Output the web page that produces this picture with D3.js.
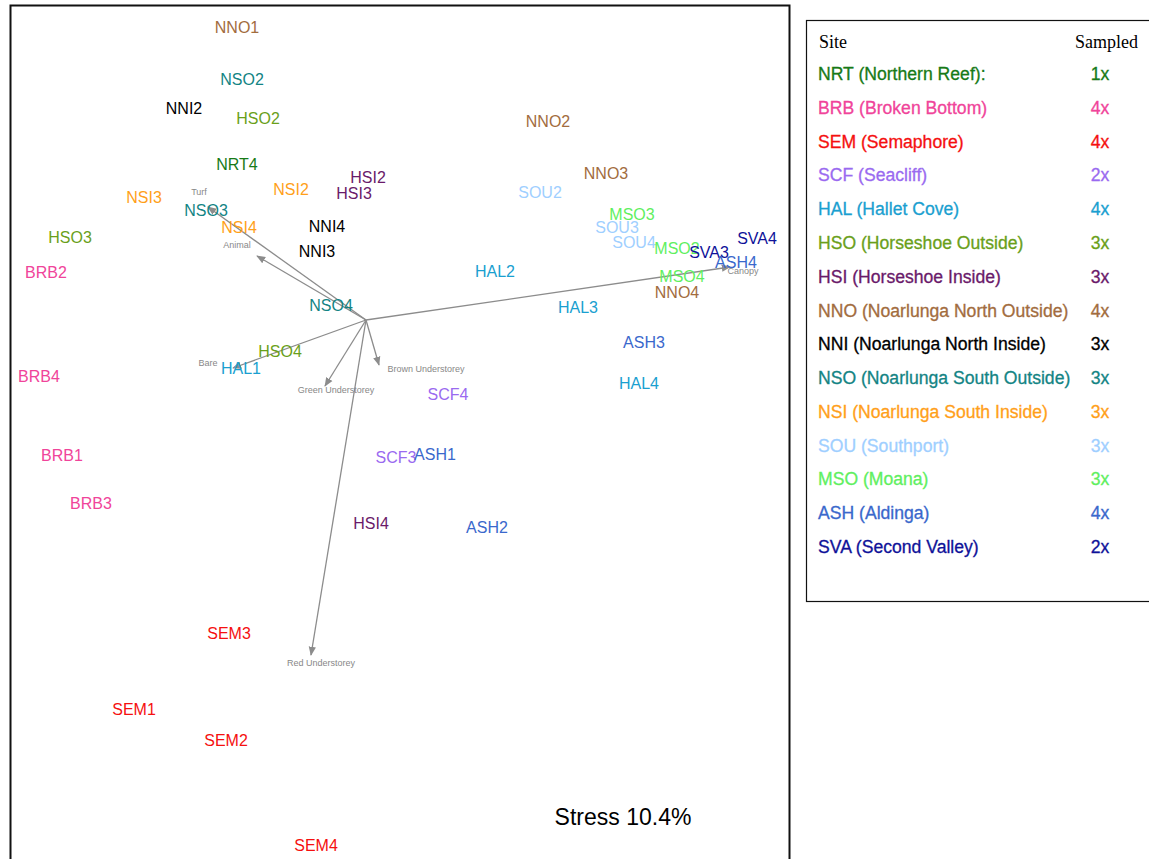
<!DOCTYPE html>
<html><head><meta charset="utf-8">
<script src="https://cdn.jsdelivr.net/npm/d3@7"></script>
<style>body{margin:0;background:#fff}</style>
</head><body>
<svg id="chart" width="1149" height="859"></svg>
<script>
// site samples: label, ordination x, ordination y (plot units)
var sampleLabels = ["NNO1","NSO2","NNI2","HSO2","NNO2","NRT4","NSI2","HSI2","HSI3","NSO3","NSI3","NSI4","NNI4","NNI3","HSO3","BRB2","NNO3","SOU2","MSO3","SOU3","SOU4","MSO2","SVA3","SVA4","ASH4","MSO4","NNO4","HAL2","HAL3","NSO4","ASH3","HAL4","HSO4","HAL1","BRB4","SCF4","SCF3","ASH1","BRB1","BRB3","HSI4","ASH2","SEM3","SEM1","SEM2","SEM4"];
var sampleX = [227,232,174,248,538,227,281,358,344,196,134,229,317,307,60,36,596,530,622,607,624,667,699,747,726,672,667,485,568,321,634,629,270,231,29,438,386,425,52,81,361,477,219,124,216,306];
var sampleY = [27,79,108,118,121,164,189,177,193,210,197,227,226,251,237,272,173,192,214,227,242,248,252,238,262,276,292,271,307,305,342,383,351,368,376,394,457,454,455,503,523,527,633,709,740,845];

// vectors
var vecNames = ["Turf","Animal","Bare","Green Understorey","Brown Understorey","Red Understorey","Canopy"];
var vecX = [198,247,223,315,369,301,720];
var vecY = [207,256,368,386,365,655,267];
var vecLabX = [189,227,198,326,416,311,733];
var vecLabY = [195,248,366,393,372,666,274];
var originX = 356, originY = 320;

// legend
var siteCodes = ["NRT","BRB","SEM","SCF","HAL","HSO","HSI","NNO","NNI","NSO","NSI","SOU","MSO","ASH","SVA"];
var siteNames = ["NRT (Northern Reef):","BRB (Broken Bottom)","SEM (Semaphore)","SCF (Seacliff)","HAL (Hallet Cove)","HSO (Horseshoe Outside)","HSI (Horseshoe Inside)","NNO (Noarlunga North Outside)","NNI (Noarlunga North Inside)","NSO (Noarlunga South Outside)","NSI (Noarlunga South Inside)","SOU (Southport)","MSO (Moana)","ASH (Aldinga)","SVA (Second Valley)"];
var sampled = ["1x","4x","4x","2x","4x","3x","3x","4x","3x","3x","3x","3x","3x","4x","2x"];
var siteColors = ["#177a17","#f0449a","#f51010","#9a6af0","#1a9fd0","#6a9f1a","#6a1a6a","#a26c3e","#000000","#138484","#ff9f1a","#9fcfff","#5fef5f","#3a68cc","#0f1299"];

var svg = d3.select("#chart");
var color = d3.scaleOrdinal(siteCodes, siteColors);
var x = d3.scaleLinear().domain([0,780]).range([10,790]);
var y = d3.scaleLinear().domain([0,859]).range([0,859]);

svg.append("rect").attr("x",10.5).attr("y",5.5).attr("width",779).attr("height",860)
  .attr("fill","none").attr("stroke","#111").attr("stroke-width",2);

svg.append("defs").append("marker").attr("id","arr").attr("viewBox","0 0 10 10")
  .attr("refX",9).attr("refY",5).attr("markerWidth",7).attr("markerHeight",7).attr("orient","auto")
  .append("path").attr("d","M0,1L10,5L0,9z").attr("fill","#8c8c8c");

vecNames.forEach(function(n,i){
  svg.append("line").attr("x1",x(originX)).attr("y1",y(originY)).attr("x2",x(vecX[i])).attr("y2",y(vecY[i]))
    .attr("stroke","#8c8c8c").attr("stroke-width",1.3).attr("marker-end","url(#arr)");
  svg.append("text").attr("x",x(vecLabX[i])).attr("y",y(vecLabY[i])).attr("text-anchor","middle")
    .attr("font-family","Liberation Sans, Arial").attr("font-size",9).attr("fill","#888").text(n);
});

sampleLabels.forEach(function(l,i){
  svg.append("text").attr("x",x(sampleX[i])).attr("y",y(sampleY[i])+6).attr("text-anchor","middle")
    .attr("font-family","Liberation Sans, Arial").attr("font-size",16).attr("fill",color(l.slice(0,3))).text(l);
});

svg.append("text").attr("x",623).attr("y",825).attr("text-anchor","middle")
  .attr("font-family","Liberation Sans, Arial").attr("font-size",23).attr("fill","#000").text("Stress 10.4%");

// legend box
svg.append("rect").attr("x",806.5).attr("y",20.5).attr("width",360).attr("height",581)
  .attr("fill","none").attr("stroke","#111").attr("stroke-width",1.2);
svg.append("text").attr("x",819).attr("y",48).attr("font-family","Liberation Serif, Times New Roman")
  .attr("font-size",18).text("Site");
svg.append("text").attr("x",1138).attr("y",48).attr("text-anchor","end").attr("font-family","Liberation Serif, Times New Roman")
  .attr("font-size",18).text("Sampled");
var ly = d3.scaleLinear().domain([0,14]).range([80,553]);
siteNames.forEach(function(n,i){
  var c = color(siteCodes[i]);
  svg.append("text").attr("x",818).attr("y",ly(i)).attr("font-family","Liberation Sans, Arial")
    .attr("font-size",17.6).attr("fill",c).attr("stroke",c).attr("stroke-width",0.3).text(n);
  svg.append("text").attr("x",1100).attr("y",ly(i)).attr("text-anchor","middle").attr("font-family","Liberation Sans, Arial")
    .attr("font-size",17.6).attr("fill",c).attr("stroke",c).attr("stroke-width",0.3).text(sampled[i]);
});
</script>
</body></html>
